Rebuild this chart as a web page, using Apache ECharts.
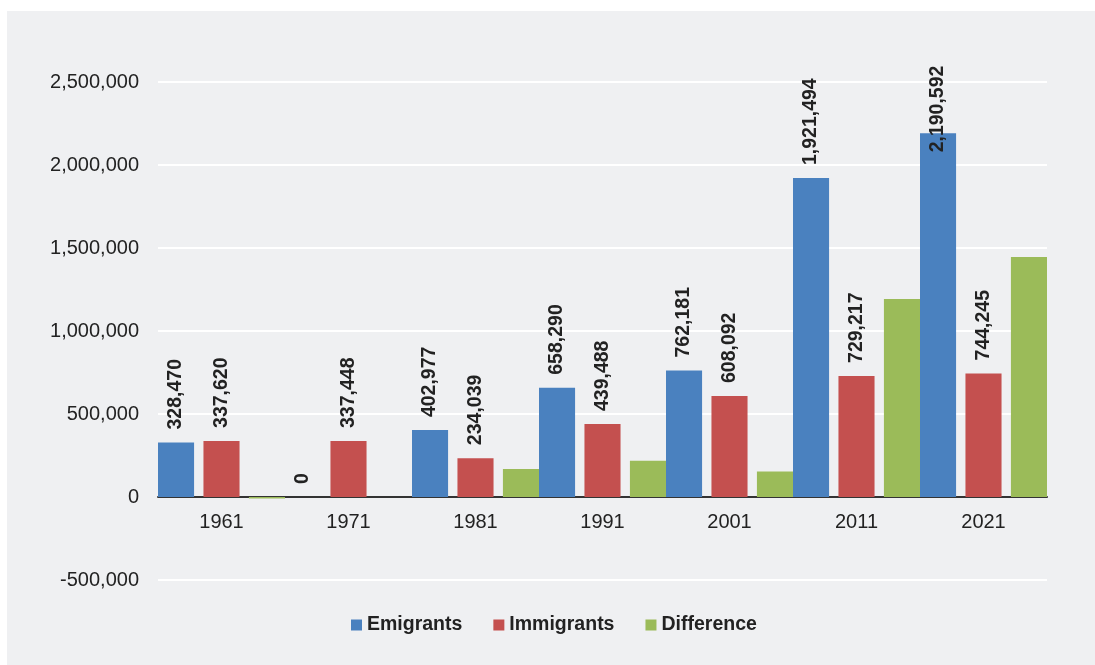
<!DOCTYPE html>
<html>
<head>
<meta charset="UTF-8"/>
<script src="https://cdn.jsdelivr.net/npm/echarts@6/dist/echarts.min.js"></script>
<style type="text/css">
	html, body {
		margin:0;
		padding:0;
		background:#ffffff;
	}
	#chart {
		position:absolute;
		left:7px;
		top:11px;
		width:1088px;
		height:654px;
	}
</style>
</head>
<body>
<div id="chart"></div>
<script type="text/javascript">
var years = ['1961', '1971', '1981', '1991', '2001', '2011', '2021'];
var emigrants = [328470, 0, 402977, 658290, 762181, 1921494, 2190592];
var immigrants = [337620, 337448, 234039, 439488, 608092, 729217, 744245];
var difference = [-9150, null, 168938, 218802, 154089, 1192277, 1446347];
var yTicks = [-500000, 0, 500000, 1000000, 1500000, 2000000, 2500000];

var fontName = 'Liberation Sans, Arial, Helvetica, sans-serif';

function fmt(v){
	return Number(v).toLocaleString('en-US');
}

var valueLabel = {
	show: true,
	position: 'top',
	rotate: 90,
	align: 'left',
	verticalAlign: 'middle',
	distance: 13,
	fontFamily: fontName,
	fontSize: 19.5,
	fontWeight: 'bold',
	color: '#222222',
	formatter: function(p){ return fmt(p.value); }
};

// the last emigrant label is pushed down into its bar in the original
var emiData = [];
for(var i=0;i<emigrants.length;i++){
	if(i == emigrants.length-1){
		emiData.push({value: emigrants[i], label: {distance: -19}});
	}else{
		emiData.push(emigrants[i]);
	}
}

var myChart = echarts.init(document.getElementById('chart'));
var option = {
	backgroundColor: '#eff0f2',
	animation: false,
	textStyle: {
		fontFamily: fontName
	},
	grid: {
		left: 151,
		right: 48,
		top: 71,
		bottom: 85
	},
	legend: {
		left: 339,
		top: 599,
		itemWidth: 11,
		itemHeight: 11,
		itemGap: 31,
		icon: 'rect',
		textStyle: {
			fontSize: 19.5,
			fontWeight: 'bold',
			color: '#222222'
		},
		data: ['Emigrants', 'Immigrants', 'Difference']
	},
	xAxis: {
		type: 'category',
		data: years,
		axisTick: {show: false},
		axisLine: {
			onZero: true,
			lineStyle: {color: '#333333', width: 2}
		},
		// labels sit under the zero line, not under the grid bottom
		axisLabel: {
			fontSize: 20,
			color: '#222222',
			margin: -68
		}
	},
	yAxis: {
		type: 'value',
		min: yTicks[0],
		max: yTicks[yTicks.length-1],
		interval: 500000,
		axisLine: {show: false},
		axisTick: {show: false},
		splitLine: {
			lineStyle: {color: '#ffffff', width: 2}
		},
		axisLabel: {
			fontSize: 20,
			color: '#222222',
			margin: 19,
			formatter: function(v){ return fmt(v); }
		}
	},
	series: [
		{
			name: 'Emigrants',
			type: 'bar',
			barCategoryGap: '0%',
			barGap: '26%',
			itemStyle: {color: '#4a81bf'},
			label: valueLabel,
			data: emiData
		},
		{
			name: 'Immigrants',
			type: 'bar',
			itemStyle: {color: '#c4504f'},
			label: valueLabel,
			data: immigrants
		},
		{
			name: 'Difference',
			type: 'bar',
			itemStyle: {color: '#9bbb59'},
			data: difference
		}
	]
};
myChart.setOption(option);
</script>
</body>
</html>
